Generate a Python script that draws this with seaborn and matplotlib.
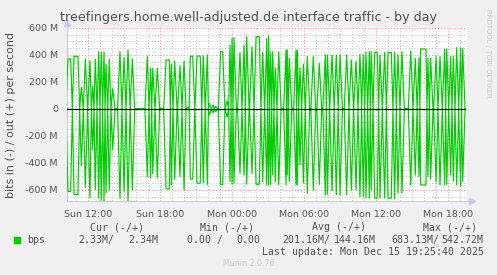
import matplotlib
matplotlib.use("Agg")
import matplotlib.pyplot as plt
import numpy as np
import pandas as pd
import seaborn as sns

# ---------------- data (hours since Sun 00:00, values in M bit/s) ----------------
spike_start = [10.31, 10.81, 11.42, 11.75, 12.14, 12.37, 12.58, 12.87, 13.08, 13.31,
               13.48, 13.75, 14.03, 14.64, 14.98, 15.31, 15.67, 16.92, 17.20, 17.37,
               17.75, 18.48, 18.92, 19.20, 19.64, 19.98, 20.31, 20.50, 21.06, 21.58,
               21.92, 22.10, 22.40, 22.60, 23.03, 23.58, 23.81, 23.98, 24.14, 24.64,
               24.98, 25.20, 25.64, 25.98, 26.53, 26.87, 27.03, 27.20, 27.37, 27.58,
               27.87, 28.48, 28.58, 28.75, 29.31, 29.42, 29.64, 29.92, 30.25, 30.75,
               31.25, 31.75, 31.92, 32.31, 32.67, 32.98, 33.53, 33.92, 34.31, 34.64,
               34.92, 35.14, 35.42, 35.58, 35.87, 36.31, 36.70, 36.98, 37.53, 37.81,
               38.14, 38.87, 39.25, 39.56, 39.70, 40.31, 40.53, 40.98, 41.31, 41.70,
               41.87, 42.20, 42.42, 42.70, 43.03, 43.20]
spike_end = [10.53, 11.14, 11.42, 11.75, 12.14, 12.37, 12.58, 12.87, 13.08, 13.31,
             13.48, 13.75, 14.03, 14.64, 14.98, 15.31, 15.67, 16.92, 17.20, 17.37,
             17.75, 18.75, 18.92, 19.20, 19.64, 19.98, 20.31, 20.70, 21.33, 21.58,
             21.92, 22.10, 22.40, 22.60, 23.20, 23.58, 23.81, 23.98, 24.14, 24.64,
             24.98, 25.20, 25.64, 26.25, 26.53, 26.87, 27.03, 27.20, 27.37, 27.58,
             27.87, 28.48, 28.58, 28.75, 29.31, 29.42, 29.64, 29.92, 30.25, 30.75,
             31.25, 31.75, 31.92, 32.31, 32.67, 32.98, 33.53, 33.92, 34.31, 34.64,
             34.92, 35.14, 35.42, 35.58, 36.08, 36.31, 36.70, 37.25, 37.53, 37.81,
             38.14, 38.87, 39.25, 39.56, 40.14, 40.31, 40.53, 40.98, 41.31, 41.70,
             41.87, 42.20, 42.42, 42.70, 43.03, 43.20]
out_peak = [370, 390, 160, 370, 360, 170, 370, 424, 420, 424,
            331, 370, 150, 424, 380, 437, 370, 390, 301, 301,
            301, 363, 331, 355, 320, 355, 12, 390, 392, 395,
            400, 40, 30, 20, 424, 60, 474, 523, 528, 420,
            474, 536, 462, 536, 420, 523, 543, 424, 424, 301,
            424, 437, 437, 375, 437, 437, 301, 331, 388, 388,
            338, 400, 400, 400, 400, 400, 400, 363, 355, 405,
            400, 424, 424, 424, 420, 400, 420, 420, 420, 400,
            424, 430, 375, 380, 444, 375, 375, 388, 388, 444,
            444, 388, 388, 454, 450, 450]
in_peak = [-612, -635, -420, -582, -660, -300, -600, -661, -674, -679,
           -625, -600, -300, -661, -612, -680, -600, -501, -510, -480,
           -510, -592, -563, -520, -501, -600, -5, -520, -550, -545,
           -560, -45, -30, -20, -560, -60, -538, -558, -550, -476,
           -489, -558, -477, -558, -538, -563, -560, -558, -489, -538,
           -563, -563, -489, -538, -563, -563, -415, -550, -625, -600,
           -558, -637, -632, -607, -637, -637, -637, -600, -600, -649,
           -649, -656, -661, -600, -661, -661, -661, -661, -667, -625,
           -625, -563, -490, -501, -563, -501, -518, -538, -563, -563,
           -558, -489, -533, -563, -575, -538]
data_start, data_end = 10.25, 43.37
last_out, last_in = 2.34, -2.33

y_ticks = [-600, -400, -200, 0, 200, 400, 600]
y_labels = ["-600 M", "-400 M", "-200 M", "0", "200 M", "400 M", "600 M"]
x_ticks = [12, 18, 24, 30, 36, 42]
x_labels = ["Sun 12:00", "Sun 18:00", "Mon 00:00", "Mon 06:00", "Mon 12:00", "Mon 18:00"]

title = "treefingers.home.well-adjusted.de interface traffic - by day"
ylabel = "bits in (-) / out (+) per second"
legend_name = "bps"
headers = ["Cur (-/+)", "Min (-/+)", "Avg (-/+)", "Max (-/+)"]
cur_vals = ["2.33M/", "2.34M"]
min_vals = ["0.00 /", "0.00"]
avg_vals = ["201.16M/", "144.16M"]
max_vals = ["683.13M/", "542.72M"]
last_update = "Last update: Mon Dec 15 19:25:40 2025"
version = "Munin 2.0.76"
credit = "RRDTOOL / TOBI OETIKER"

# ---------------- build line series from the pulses ----------------
RAMP = 0.2


def build(peaks, last):
    t, v = [data_start], [0.0]
    n = len(spike_start)
    for k in range(n):
        s, e = spike_start[k], spike_end[k]
        prev_e = spike_end[k - 1] if k > 0 else data_start - 1
        next_s = spike_start[k + 1] if k < n - 1 else data_end + 1
        dl = min((s - prev_e) / 2, RAMP)
        dr = min((next_s - e) / 2, RAMP)
        t += [s - dl, s, e, e + dr]
        v += [0.0, peaks[k], peaks[k], 0.0]
    t.append(data_end)
    v.append(last)
    return t, v


t_out, v_out = build(out_peak, last_out)
t_in, v_in = build(in_peak, last_in)
df = pd.DataFrame({
    "t": t_out + t_in,
    "v": v_out + v_in,
    "series": ["out"] * len(t_out) + ["in"] * len(t_in),
})

# ---------------- figure ----------------
sns.set_style("white")
plt.rcParams["font.family"] = ["DejaVu Sans"]

W, H = 497, 275
fig = plt.figure(figsize=(W / 100, H / 100), dpi=100, facecolor="#F0F0F0")
ax = fig.add_axes([67 / W, 1 - 201 / H, 400 / W, 174 / H])
ax.set_facecolor("white")

GREEN = "#00CC00"
sns.lineplot(data=df, x="t", y="v", units="series", estimator=None, sort=False,
             color=GREEN, lw=0.85, ax=ax, legend=False, zorder=3)

XMIN, XMAX = 10.225, 43.56
ax.axhline(0, color="black", lw=0.9, zorder=4, xmax=(data_end - XMIN) / (XMAX - XMIN))

ax.set_xlim(XMIN, XMAX)
ax.set_ylim(-682, 607)

# grid
for y in np.arange(-650, 601, 50):
    major = (y % 200 == 0)
    ax.axhline(y, color="#FF8C8C" if major else "#C4C4C4", lw=0.7,
               ls=(0, (1, 2)), zorder=1)
for h in range(11, 44):
    major = (h % 6 == 0)
    ax.axvline(h, color="#FF8C8C" if major else "#C4C4C4", lw=0.7,
               ls=(0, (1, 2)), zorder=1)

ax.set_yticks(y_ticks)
ax.set_yticklabels(y_labels)
ax.set_yticks(np.arange(-650, 601, 50), minor=True)
ax.set_xticks(x_ticks)
ax.set_xticklabels(x_labels)
ax.set_xticks(range(11, 44), minor=True)
ax.tick_params(axis="both", which="major", labelsize=6.8, labelcolor="#555555",
               color="#FF6060", length=3, width=0.6, direction="inout")
ax.tick_params(axis="both", which="minor", color="#BBBBBB", length=2, width=0.6,
               direction="inout")
ax.tick_params(axis="y", which="major", pad=5)
ax.tick_params(axis="x", which="major", pad=5)
ax.set_xlabel("")
ax.set_ylabel("")

for sp in ["top", "right"]:
    ax.spines[sp].set_visible(False)
for sp in ["left", "bottom"]:
    ax.spines[sp].set_color("#C8C8E8")
    ax.spines[sp].set_linewidth(0.8)
# axis arrows
ax.plot([1.0, 1.012], [0, 0], color="#C8C8E8", lw=0.8, transform=ax.transAxes, clip_on=False)
ax.plot([1.012], [0], marker=">", ms=4, color="#C8C8F8", transform=ax.transAxes, clip_on=False)
ax.plot([0, 0], [1.0, 1.025], color="#C8C8E8", lw=0.8, transform=ax.transAxes, clip_on=False)
ax.plot([0], [1.025], marker="^", ms=4, color="#C8C8F8", transform=ax.transAxes, clip_on=False)

# texts
fig.text(248 / W, 1 - 18 / H, title, ha="center", va="center", fontsize=9.1, color="#505050")
fig.text(11 / W, 1 - 115 / H, ylabel, ha="center", va="center", rotation=90,
         fontsize=8.0, color="#505050")
fig.text(488 / W, 1 - 53 / H, credit, ha="center", va="center", rotation=270,
         fontsize=5.0, color="#CCCCCC")

mono = dict(family="DejaVu Sans Mono", fontsize=7.1, color="#505050", va="center")
hx = [90, 200.3, 311.7, 422.7]
for x, s in zip(hx, headers):
    fig.text(x / W, 1 - 227.5 / H, s, ha="left", **mono)
fig.patches.append(plt.Rectangle((14 / W, 1 - 243 / H), 6 / W, 6 / H,
                                 transform=fig.transFigure, color=GREEN))
fig.text(26.7 / W, 1 - 240 / H, legend_name, ha="left", **mono)
vx = [(78.7, 128.7), (186.7, 236.7), (282.7, 333.3), (391, 441.7)]
for (x1, x2), vals in zip(vx, [cur_vals, min_vals, avg_vals, max_vals]):
    fig.text(x1 / W, 1 - 240 / H, vals[0], ha="left", **mono)
    fig.text(x2 / W, 1 - 240 / H, vals[1], ha="left", **mono)
fig.text(261.7 / W, 1 - 251.7 / H, last_update, ha="left", **mono)
fig.text(248.3 / W, 1 - 263.3 / H, version, ha="center", va="center",
         fontsize=5.7, color="#C8C8C8")

fig.savefig("out.png", dpi=100, facecolor=fig.get_facecolor())
